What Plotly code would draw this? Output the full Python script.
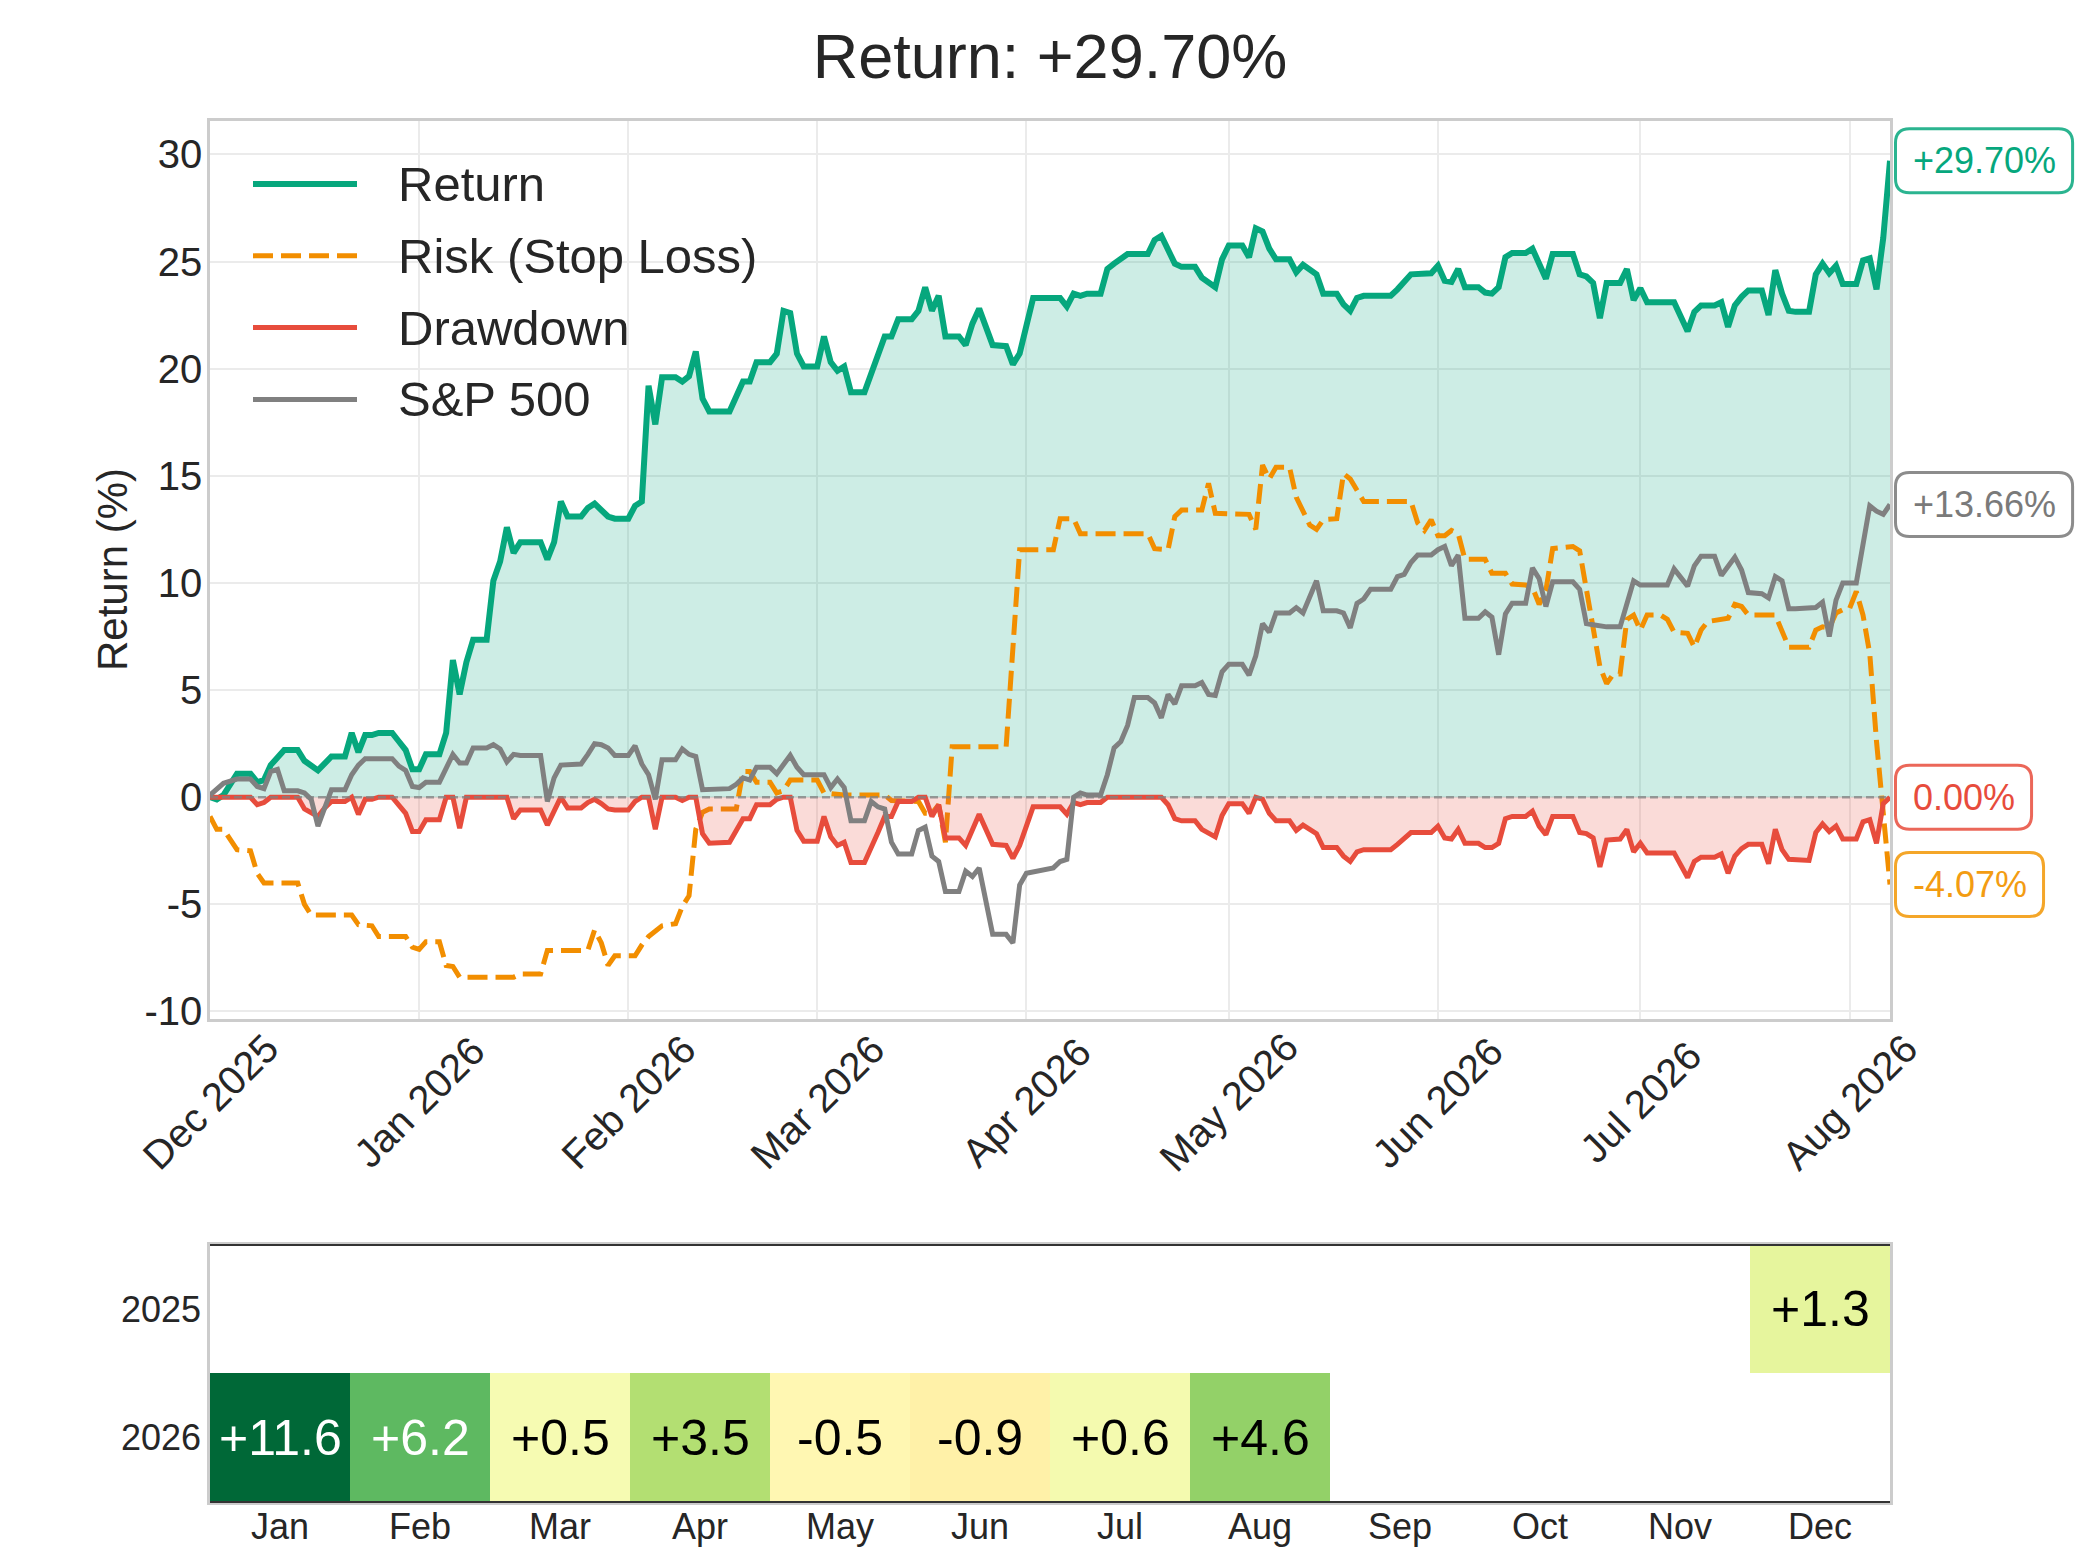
import plotly.graph_objects as go
import pandas as pd

START = "2025-12-01"
END_DAY = 249

# ---- Return (%) : day offset from START, value ----
ret_day = [0, 1, 2, 4, 6, 7, 8, 9, 11, 13, 14, 16, 18, 20, 21, 22, 23, 24, 25, 27, 28, 29, 30,
           31, 32, 34, 35, 36, 37, 38, 39, 41, 42, 43, 44, 45, 46, 49, 50, 51, 52, 53, 55, 56, 57, 58, 59, 60,
           62, 63, 64, 65, 66, 67, 69, 70, 71, 72, 73, 74, 77, 78, 79, 80, 81, 83, 84, 85, 86, 87, 88,
           90, 91, 92, 93, 94, 95, 97, 98, 99, 100, 101, 102, 104, 105, 106, 107, 108, 109, 111, 112, 113, 114, 116, 118, 119, 120,
           122, 126, 127, 128, 129, 130, 132, 133, 134, 136, 139, 140, 141, 142, 143, 144, 146, 147, 148, 149, 150,
           151, 153, 154, 155, 156, 157, 158, 160, 161, 162, 164, 165, 167, 168, 169, 170, 171, 175, 176, 178, 181,
           182, 183, 184, 185, 186, 188, 189, 190, 191, 192, 193, 195, 196, 197, 198, 199, 202, 203, 204, 205, 206, 207, 209, 210, 211,
           212, 213, 217, 218, 219, 220, 221, 223, 224, 225, 226, 227, 228, 230, 231, 232, 233, 234, 235, 237, 238, 239, 240, 241, 242,
           244, 245, 246, 247, 248, 249]
ret_val = [0.0, -0.1, 0.1, 1.1, 1.1, 0.7, 0.8, 1.5, 2.2, 2.2, 1.7, 1.25, 1.9, 1.9, 3.0, 2.1, 2.9, 2.9, 3.0, 3.0, 2.6, 2.2, 1.3,
           1.3, 2.0, 2.0, 3.0, 6.4, 4.8, 6.3, 7.35, 7.35, 10.1, 11.0, 12.6, 11.4, 11.9, 11.9, 11.1, 11.9, 13.8, 13.1, 13.1, 13.5, 13.7, 13.4, 13.1, 13.0,
           13.0, 13.6, 13.8, 19.2, 17.4, 19.6, 19.6, 19.4, 19.65, 20.8, 18.6, 18.0, 18.0, 18.7, 19.4, 19.4, 20.3, 20.3, 20.7, 22.7, 22.6, 20.7, 20.1,
           20.1, 21.5, 20.3, 19.9, 20.1, 18.9, 18.9, 19.8, 20.6, 21.5, 21.5, 22.3, 22.3, 22.7, 23.8, 22.7, 23.4, 21.5, 21.5, 21.1, 22.1, 22.8, 21.1, 21.05, 20.2, 20.7,
           23.3, 23.3, 22.9, 23.5, 23.4, 23.5, 23.5, 24.65, 24.9, 25.35, 25.35, 26.0, 26.2, 25.6, 24.9, 24.75, 24.75, 24.25, 24.0, 23.8, 25.1,
           25.75, 25.75, 25.2, 26.55, 26.4, 25.6, 25.1, 25.1, 24.5, 24.85, 24.4, 23.5, 23.5, 23.0, 22.7, 23.3, 23.4, 23.4, 23.7, 24.4, 24.45,
           24.8, 24.1, 24.05, 24.65, 23.8, 23.8, 23.55, 23.5, 23.8, 25.2, 25.4, 25.4, 25.6, 24.85, 24.2, 25.35, 25.35, 24.4, 24.3, 24.0, 22.35, 24.0, 24.0, 24.65, 23.2,
           23.75, 23.1, 23.1, 22.45, 21.75, 22.65, 22.95, 22.95, 23.1, 21.95, 22.95, 23.35, 23.65, 23.65, 22.5, 24.6, 23.5, 22.7, 22.65, 22.65, 24.4, 24.9, 24.45, 24.8, 23.95,
           23.95, 25.05, 25.15, 23.7, 26.1, 29.7]

# ---- Risk (Stop Loss) (%) ----
risk_day = [0, 1, 2, 4, 6, 7, 8, 13, 14, 15, 21, 22, 24, 25, 29, 30,
            31, 32, 34, 35, 36, 37, 45, 46, 49, 50, 56, 57, 58, 59, 60,
            63, 64, 65, 67, 69, 70, 71, 72, 73, 74, 78, 79, 80, 81, 83, 84, 85, 86,
            90, 91, 94, 100, 101, 105, 106, 107, 108, 109, 110, 118, 119, 120,
            125, 126, 128, 129, 139, 140, 142, 143, 144, 147, 148, 149,
            154, 155, 156, 157, 158, 160, 161, 163, 164, 165, 167, 168, 169, 171, 178, 179, 180, 181,
            182, 183, 184, 185, 186, 189, 190, 192, 193, 195, 196, 197, 198, 199, 202, 203, 204, 205, 206, 207, 208, 209, 210, 211,
            212, 213, 215, 216, 217, 219, 220, 221, 222, 225, 226, 227, 228, 232, 233, 234, 237, 238, 239, 240, 241, 242,
            243, 244, 245, 246, 247, 248, 249]
risk_val = [-0.9, -1.5, -1.5, -2.45, -2.5, -3.55, -4.0, -4.0, -5.0, -5.5, -5.5, -5.95, -6.0, -6.5, -6.5, -7.0,
            -7.1, -6.75, -6.75, -7.85, -7.9, -8.4, -8.4, -8.25, -8.25, -7.15, -7.15, -6.2, -6.8, -7.85, -7.4,
            -7.4, -6.9, -6.5, -6.0, -5.9, -5.1, -4.6, -1.5, -0.7, -0.55, -0.55, 1.2, 1.2, 0.7, 0.7, 0.2, 0.3, 0.8,
            0.8, 0.2, 0.1, 0.1, -0.15, -0.2, -0.75, -0.75, -0.35, -2.1, 2.35, 2.35, 7.0, 11.55,
            11.55, 13.0, 13.0, 12.3, 12.3, 11.6, 11.55, 13.1, 13.4, 13.4, 14.65, 13.25,
            13.2, 12.5, 15.5, 14.85, 15.4, 15.4, 14.0, 12.7, 12.5, 12.95, 13.0, 15.1, 14.85, 13.8, 13.8, 12.8, 12.45, 12.95,
            12.2, 12.2, 12.45, 12.3, 11.1, 11.1, 10.45, 10.45, 9.95, 9.9, 9.8, 9.0, 9.65, 11.6, 11.7, 11.5, 9.7, 7.8, 6.1, 5.3, 5.75, 5.75, 8.3, 8.5,
            7.8, 8.5, 8.5, 8.3, 7.7, 7.65, 7.0, 7.8, 8.2, 8.35, 9.0, 8.9, 8.5, 8.5, 7.8, 7.0, 7.0, 7.8, 7.95, 7.9, 8.6, 8.75,
            8.8, 9.6, 8.5, 6.7, 2.6, -0.9, -4.07]

# ---- Drawdown (%) ----
dd_day = [0, 6, 7, 8, 9, 13, 14, 15, 16, 17, 18, 20, 21, 22, 23, 24, 25, 27, 28, 29, 30,
          31, 32, 34, 35, 36, 37, 38, 44, 45, 46, 49, 50, 52, 53, 55, 56, 57, 58, 59, 60,
          62, 63, 64, 65, 66, 67, 69, 70, 71, 72, 73, 74, 77, 78, 79, 80, 81, 83, 84, 85, 86, 87, 88,
          90, 91, 92, 93, 94, 95, 97, 98, 99, 100, 101, 102, 104, 105, 106, 107, 108, 109, 111, 112, 113, 114, 116, 118, 119, 120,
          122, 126, 127, 128, 129, 130, 132, 133, 141, 142, 143, 144, 146, 147, 149, 150,
          151, 153, 154, 155, 156, 157, 158, 160, 161, 162, 164, 165, 167, 168, 169, 170, 171, 175, 176, 178, 181,
          182, 183, 184, 185, 186, 188, 189, 190, 191, 192, 193, 195, 196, 197, 198, 199, 202, 203, 204, 205, 206, 207, 209, 210, 211,
          212, 213, 217, 218, 219, 220, 221, 223, 224, 225, 226, 227, 228, 230, 231, 232, 233, 234, 237, 238, 239, 240, 241, 242,
          244, 245, 246, 247, 248, 249]
dd_val = [0.0, 0.0, -0.35, -0.25, 0.0, 0.0, -0.55, -0.75, -0.9, -0.5, -0.2, -0.2, 0.0, -0.8, -0.1, -0.1, 0.0, 0.0, -0.35, -0.75, -1.6,
          -1.6, -1.05, -1.05, 0.0, 0.0, -1.45, 0.0, 0.0, -1.0, -0.6, -0.6, -1.3, 0.0, -0.5, -0.5, -0.25, -0.1, -0.3, -0.55, -0.6,
          -0.6, -0.2, 0.0, 0.0, -1.5, 0.0, 0.0, -0.15, 0.0, 0.0, -1.7, -2.15, -2.1, -1.55, -1.0, -1.0, -0.35, -0.35, -0.1, 0.0, 0.0, -1.55, -2.05,
          -2.05, -0.9, -1.85, -2.25, -2.1, -3.05, -3.05, -2.4, -1.65, -0.9, -0.9, -0.2, -0.2, 0.0, 0.0, -0.9, -0.35, -1.9, -1.9, -2.25, -1.5, -0.8, -2.2, -2.25, -2.85, -2.25,
          -0.45, -0.45, -0.8, -0.25, -0.35, -0.25, -0.25, 0.0, 0.0, -0.35, -1.0, -1.1, -1.1, -1.5, -1.85, -0.85,
          -0.3, -0.3, -0.75, 0.0, -0.1, -0.75, -1.1, -1.1, -1.55, -1.3, -1.7, -2.35, -2.35, -2.75, -3.0, -2.55, -2.45, -2.45, -2.2, -1.65, -1.65,
          -1.35, -1.9, -1.95, -1.5, -2.15, -2.15, -2.35, -2.35, -2.15, -1.0, -0.9, -0.9, -0.65, -1.35, -1.75, -0.9, -0.9, -1.65, -1.7, -1.9, -3.25, -2.0, -1.95, -1.5, -2.55,
          -2.15, -2.6, -2.6, -3.15, -3.75, -3.0, -2.8, -2.8, -2.65, -3.55, -2.75, -2.4, -2.2, -2.2, -3.1, -1.5, -2.45, -2.9, -2.95, -1.65, -1.25, -1.6, -1.35, -1.95,
          -1.95, -1.15, -1.05, -2.15, -0.3, 0.0]

# ---- S&P 500 (%) ----
spx_day = [0, 2, 4, 6, 7, 8, 9, 10, 11, 13, 14, 15, 16, 17, 18, 20, 21, 22, 23, 27, 28, 29, 30,
           31, 32, 34, 35, 36, 37, 38, 39, 41, 42, 43, 44, 45, 46, 49, 50, 51, 52, 55, 56, 57, 58, 59, 60,
           62, 63, 64, 65, 66, 67, 69, 70, 71, 72, 73, 77, 78, 79, 80, 81, 83, 84, 85, 86, 87, 88,
           91, 92, 93, 94, 95, 97, 98, 99, 100, 101, 102, 104, 105, 106, 107, 108, 109, 111, 112, 113, 114, 116, 118, 119, 120,
           121, 125, 126, 127, 128, 129, 130, 132, 133, 134, 135, 136, 137, 139, 140, 141, 142, 143, 144, 146, 147, 148, 149, 150,
           151, 153, 154, 155, 156, 157, 158, 160, 161, 162, 163, 164, 165, 167, 168, 169, 170, 171, 172, 175, 176, 177, 178, 179, 181,
           182, 183, 184, 185, 186, 188, 189, 190, 191, 192, 193, 195, 196, 197, 198, 199, 202, 203, 204, 205, 207, 209, 210, 211,
           212, 216, 217, 218, 219, 220, 221, 223, 224, 226, 227, 228, 230, 231, 232, 233, 234, 235, 238, 239, 240, 241, 242,
           244, 245, 246, 247, 248, 249]
spx_val = [0.1, 0.65, 0.85, 0.85, 0.5, 0.4, 1.2, 1.3, 0.3, 0.3, 0.2, -0.1, -1.35, -0.45, 0.35, 0.35, 1.05, 1.5, 1.8, 1.8, 1.45, 1.25, 0.5,
           0.45, 0.7, 0.7, 1.35, 2.0, 1.6, 1.6, 2.3, 2.3, 2.45, 2.25, 1.65, 2.0, 1.95, 1.95, -0.2, 0.9, 1.5, 1.55, 2.0, 2.5, 2.45, 2.3, 1.95,
           1.95, 2.4, 1.55, 1.05, -0.1, 1.75, 1.75, 2.25, 2.0, 1.9, 0.35, 0.4, 0.6, 0.9, 0.8, 1.4, 1.4, 1.1, 1.55, 1.95, 1.4, 1.05,
           1.05, 0.45, 0.85, 0.45, -1.1, -1.1, -0.2, -0.45, -0.55, -2.1, -2.65, -2.65, -1.55, -1.4, -2.75, -3.0, -4.4, -4.4, -3.45, -3.7, -3.3, -6.4, -6.4, -6.8, -4.1,
           -3.55, -3.3, -3.0, -2.9, 0.0, 0.2, 0.1, 0.1, 1.05, 2.3, 2.6, 3.35, 4.65, 4.65, 4.4, 3.7, 4.8, 4.35, 5.2, 5.2, 5.35, 4.8, 4.75, 5.85,
           6.2, 6.2, 5.7, 6.6, 8.1, 7.7, 8.6, 8.6, 8.85, 8.6, 9.3, 10.1, 8.7, 8.7, 8.6, 7.9, 9.05, 9.25, 9.7, 9.7, 10.3, 10.4, 10.95, 11.3, 11.3,
           11.55, 11.7, 10.8, 11.3, 8.35, 8.35, 8.65, 8.4, 6.65, 8.55, 9.05, 9.05, 10.7, 10.2, 8.9, 10.05, 10.05, 9.7, 8.1, 8.05, 7.95, 7.95, 9.05, 10.1,
           9.9, 9.9, 10.65, 10.2, 9.85, 10.8, 11.25, 11.25, 10.35, 11.2, 10.6, 9.55, 9.5, 9.3, 10.3, 10.1, 8.8, 8.8, 8.85, 9.1, 7.5, 9.2, 10.0,
           10.0, 11.7, 13.6, 13.35, 13.2, 13.66]

assert len(ret_day) == len(ret_val)
assert len(risk_day) == len(risk_val)
assert len(dd_day) == len(dd_val)
assert len(spx_day) == len(spx_val)

# ---- axis ticks ----
xtick_dates = ["2025-12-01", "2026-01-01", "2026-02-01", "2026-03-01", "2026-04-01",
               "2026-05-01", "2026-06-01", "2026-07-01", "2026-08-01"]
xtick_text = ["Dec 2025", "Jan 2026", "Feb 2026", "Mar 2026", "Apr 2026",
              "May 2026", "Jun 2026", "Jul 2026", "Aug 2026"]
ytick_vals = [-10, -5, 0, 5, 10, 15, 20, 25, 30]
ytick_text = ["-10", "-5", "0", "5", "10", "15", "20", "25", "30"]

# ---- monthly returns heatmap ----
months = ["Jan", "Feb", "Mar", "Apr", "May", "Jun", "Jul", "Aug", "Sep", "Oct", "Nov", "Dec"]
years = ["2025", "2026"]
monthly_2025 = [None, None, None, None, None, None, None, None, None, None, None, 1.3]
monthly_2026 = [11.6, 6.2, 0.5, 3.5, -0.5, -0.9, 0.6, 4.6, None, None, None, None]

# ---------------- styling ----------------
FONT = "Liberation Sans, Arial, Helvetica, sans-serif"
TXT = "#262626"
GREEN = "#06A77D"
ORANGE = "#F28E00"
RED = "#E74C3C"
GRAY = "#808080"
GRID = "#EBEBEB"
FRAME = "#CCCCCC"
W, H = 2100, 1555
Y_RANGE = [-10.35, 31.58]
MAIN_DOM = [0.3447, 0.9225]
HM_DOM = [0.0341, 0.1994]
LW_MAIN, LW_OTHER = 6, 5
DASH = "20px,8px"


def to_dates(days):
    return pd.Timestamp(START) + pd.to_timedelta(days, unit="D")


x_end = pd.Timestamp(START) + pd.Timedelta(days=END_DAY)

fig = go.Figure()

fig.add_trace(go.Scatter(x=to_dates(ret_day), y=ret_val, name="Return", mode="lines",
                         line=dict(color=GREEN, width=LW_MAIN), fill="tozeroy",
                         fillcolor="rgba(6,167,125,0.2)", showlegend=False))
fig.add_trace(go.Scatter(x=to_dates(risk_day), y=risk_val, name="Risk (Stop Loss)", mode="lines",
                         line=dict(color=ORANGE, width=LW_OTHER, dash=DASH), showlegend=False))
fig.add_trace(go.Scatter(x=to_dates(dd_day), y=dd_val, name="Drawdown", mode="lines",
                         line=dict(color=RED, width=LW_OTHER), fill="tozeroy",
                         fillcolor="rgba(231,76,60,0.2)", showlegend=False))
fig.add_trace(go.Scatter(x=to_dates(spx_day), y=spx_val, name="S&P 500", mode="lines",
                         line=dict(color=GRAY, width=LW_OTHER), showlegend=False))

month_idx = list(range(len(months)))
year_idx = list(range(len(years)))
fig.add_trace(go.Heatmap(z=[monthly_2025, monthly_2026], x=month_idx, y=year_idx,
                         xaxis="x2", yaxis="y2", colorscale="RdYlGn", zmin=-10, zmax=10,
                         showscale=False, hoverongaps=False, xgap=0, ygap=0))

shapes = []
annotations = []

# zero reference line
shapes.append(dict(type="line", xref="x domain", x0=0, x1=1, yref="y", y0=0, y1=0,
                   line=dict(color="rgba(128,128,128,0.75)", width=2.5, dash="8px,4px"), layer="above"))

# heatmap top / bottom edges
for yy in (0, 1):
    shapes.append(dict(type="line", xref="x2 domain", x0=0, x1=1, yref="y2 domain", y0=yy, y1=yy,
                       line=dict(color="#333333", width=2), layer="above"))

# custom legend
legend_items = [("Return", GREEN, LW_MAIN, "solid"), ("Risk (Stop Loss)", ORANGE, LW_OTHER, DASH),
                ("Drawdown", RED, LW_OTHER, "solid"), ("S&P 500", GRAY, LW_OTHER, "solid")]
for i, (lab, col, lw, dsh) in enumerate(legend_items):
    ypx = 184 + i * 71.8
    yp = 1 - ypx / H
    shapes.append(dict(type="line", xref="paper", yref="paper", x0=253 / W, x1=357 / W, y0=yp, y1=yp,
                       line=dict(color=col, width=lw, dash=dsh)))
    annotations.append(dict(text=lab, xref="paper", yref="paper", x=396 / W, y=yp,
                            xanchor="left", yanchor="middle", showarrow=False,
                            font=dict(size=49, color=TXT, family=FONT)))

# rotated x tick labels (centered on ticks)
for d, t in zip(xtick_dates, xtick_text):
    annotations.append(dict(text=t, x=d, xref="x", y=1 - 1102 / H, yref="paper", textangle=-45,
                            xanchor="center", yanchor="middle", showarrow=False,
                            font=dict(size=40, color=TXT, family=FONT)))

# y axis title
annotations.append(dict(text="Return (%)", xref="paper", yref="paper", x=112 / W, y=1 - 570 / H,
                        textangle=-90, xanchor="center", yanchor="middle", showarrow=False,
                        font=dict(size=42, color=TXT, family=FONT)))

# end-value labels with rounded boxes
CHAR_W = {"+": 0.584, "-": 0.333, ".": 0.278, "%": 0.889}
LBL_FS = 36
plot_top_px = (1 - MAIN_DOM[1]) * H
plot_bot_px = (1 - MAIN_DOM[0]) * H
plot_right_px = 0.9 * W


def text_width(s):
    return sum(CHAR_W.get(c, 0.556) for c in s) * LBL_FS


def value_to_px(v):
    return plot_top_px + (Y_RANGE[1] - v) / (Y_RANGE[1] - Y_RANGE[0]) * (plot_bot_px - plot_top_px)


def X(px):
    return px / W


def Y(py):
    return 1 - py / H


end_labels = [
    (ret_val[-1], f"{ret_val[-1]:+.2f}%", GREEN, "rgba(6,167,125,0.85)"),
    (spx_val[-1], f"{spx_val[-1]:+.2f}%", "#7a7a7a", "#8c8c8c"),
    (dd_val[-1], f"{dd_val[-1]:.2f}%", RED, "rgba(231,76,60,0.85)"),
    (risk_val[-1], f"{risk_val[-1]:.2f}%", "#F39C12", "rgba(243,156,18,0.9)"),
]
for v, s, tc, bc in end_labels:
    cy = value_to_px(v)
    w = text_width(s) + 34
    x0p, x1p = plot_right_px + 5.5, plot_right_px + 5.5 + w
    y0p, y1p = cy - 32, cy + 32
    r = 14
    path = (f"M {X(x0p + r)},{Y(y0p)} L {X(x1p - r)},{Y(y0p)} Q {X(x1p)},{Y(y0p)} {X(x1p)},{Y(y0p + r)} "
            f"L {X(x1p)},{Y(y1p - r)} Q {X(x1p)},{Y(y1p)} {X(x1p - r)},{Y(y1p)} "
            f"L {X(x0p + r)},{Y(y1p)} Q {X(x0p)},{Y(y1p)} {X(x0p)},{Y(y1p - r)} "
            f"L {X(x0p)},{Y(y0p + r)} Q {X(x0p)},{Y(y0p)} {X(x0p + r)},{Y(y0p)} Z")
    shapes.append(dict(type="path", path=path, xref="paper", yref="paper",
                       line=dict(color=bc, width=3), fillcolor="white", layer="above"))
    annotations.append(dict(text=s, xref="paper", x=X(x0p + 15), xanchor="left",
                            yref="paper", y=Y(cy), yanchor="middle", showarrow=False,
                            font=dict(size=LBL_FS, color=tc, family=FONT)))

# heatmap cell labels
for yi, row in zip(year_idx, [monthly_2025, monthly_2026]):
    for mi, v in zip(month_idx, row):
        if v is None:
            continue
        annotations.append(dict(text=f"{v:+.1f}", x=mi, y=yi, xref="x2", yref="y2", showarrow=False,
                                font=dict(size=50, color="white" if abs(v) >= 5 else "black", family=FONT)))

fig.update_layout(
    width=W, height=H, margin=dict(l=0, r=0, t=0, b=0, pad=0, autoexpand=False),
    paper_bgcolor="white", plot_bgcolor="white", showlegend=False,
    font=dict(family=FONT, color=TXT),
    title=dict(text=f"Return: {ret_val[-1]:+.2f}%", x=0.5, xanchor="center", y=1 - 56 / H,
               yanchor="middle", yref="container", font=dict(size=63, color=TXT, family=FONT)),
    xaxis=dict(domain=[0.1, 0.9], anchor="y", type="date", range=[pd.Timestamp(START), x_end],
               tickmode="array", tickvals=xtick_dates, showticklabels=False, ticks="",
               showgrid=True, gridcolor=GRID, gridwidth=2, zeroline=False, automargin=False,
               showline=True, mirror=True, linecolor=FRAME, linewidth=2.5),
    yaxis=dict(domain=MAIN_DOM, anchor="x", range=Y_RANGE, automargin=False,
               tickmode="array", tickvals=ytick_vals, ticktext=ytick_text, ticks="",
               ticklabelstandoff=-3, tickfont=dict(size=40, color=TXT, family=FONT),
               showgrid=True, gridcolor=GRID, gridwidth=2, zeroline=False,
               showline=True, mirror=True, linecolor=FRAME, linewidth=2.5),
    xaxis2=dict(domain=[0.1, 0.9], anchor="y2", range=[-0.5, 11.5], automargin=False,
                tickmode="array", tickvals=month_idx, ticktext=months, ticks="",
                ticklabelstandoff=-9,
                showgrid=False, zeroline=False, tickfont=dict(size=36, color=TXT, family=FONT),
                showline=True, mirror=True, linecolor=FRAME, linewidth=2.5),
    yaxis2=dict(domain=HM_DOM, anchor="x2", range=[1.5, -0.5], automargin=False,
                tickmode="array", tickvals=year_idx, ticktext=years, ticks="",
                showgrid=False, zeroline=False, ticklabelstandoff=-1,
                tickfont=dict(size=36, color=TXT, family=FONT),
                showline=True, mirror=True, linecolor=FRAME, linewidth=2.5),
    shapes=shapes, annotations=annotations,
)

fig.write_html("out.html", config={"displayModeBar": False},
               post_script="document.body.style.margin='0';")
